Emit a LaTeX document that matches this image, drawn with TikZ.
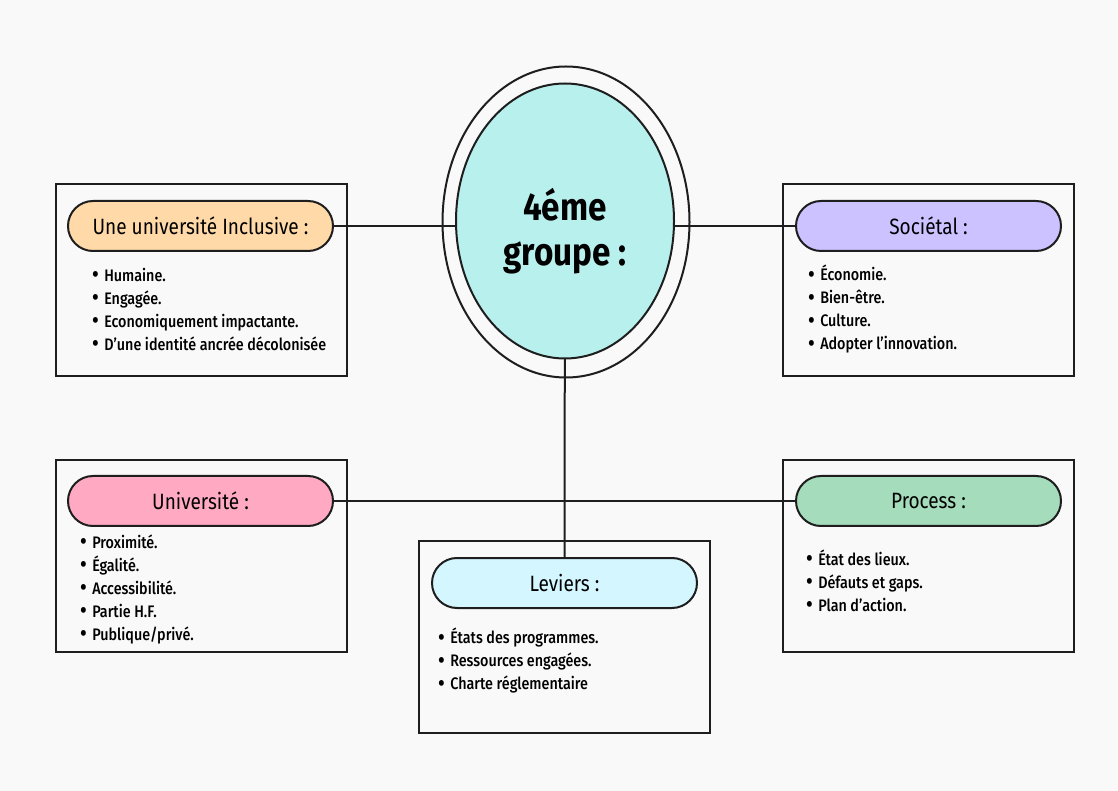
\documentclass[tikz,border=0pt]{standalone}
\usepackage{fontspec}
\setmainfont{Fira Sans}[FakeStretch=0.86]
\newfontfamily\medfont{Fira Sans Medium}[FakeStretch=0.86]
\newfontfamily\boldfont{Fira Sans Bold}[FakeStretch=0.86]
\usetikzlibrary{shapes.geometric}

\definecolor{bgcol}{HTML}{F9F9F9}
\definecolor{inkcol}{HTML}{1E1E1E}
\definecolor{peach}{HTML}{FFDAA8}
\definecolor{lavender}{HTML}{CCC2FF}
\definecolor{rose}{HTML}{FFAAC2}
\definecolor{icecyan}{HTML}{D4F6FF}
\definecolor{mint}{HTML}{A4DCBC}
\definecolor{aqua}{HTML}{B8F0EE}

\pgfdeclarelayer{panels}
\pgfdeclarelayer{links}
\pgfsetlayers{panels,links,main}

\newcommand{\itm}[1]{\makebox[9pt][l]{\boldfont\raisebox{-0.2pt}{\scalebox{1.25}{•}}}#1}

\tikzset{
  panel/.style={draw=inkcol, line width=1.5pt, fill=bgcol,
    minimum width=218.25pt, minimum height=144pt, inner sep=0pt},
  pill/.style={draw=inkcol, line width=1.5pt, rounded corners=18.75pt,
    minimum width=198.75pt, minimum height=37.5pt, inner sep=0pt,
    font=\fontsize{16.6}{20}\selectfont},
  items/.style={anchor=west, align=left, inner sep=0pt,
    font=\medfont\fontsize{12.5}{17.25}\selectfont},
  link/.style={draw=inkcol, line width=1.5pt},
}

\begin{document}
\begin{tikzpicture}[x=0.75pt, y=-0.75pt]
  \useasboundingbox (0,0) rectangle (1118,791);

  % backdrop, outer frames and the ring around the hub
  \begin{pgfonlayer}{panels}
    \fill[bgcol] (0,0) rectangle (1118,791);
    \node[panel] (b1) at (201.5,280) {};
    \node[panel] (b2) at (928.5,280) {};
    \node[panel] (b3) at (201.5,556) {};
    \node[panel] (b4) at (564.5,637) {};
    \node[panel] (b5) at (928.5,556) {};
    \node[ellipse, draw=inkcol, line width=1.5pt, inner sep=0pt,
          minimum width=185.25pt, minimum height=233.25pt] (ring) at (566,222) {};
  \end{pgfonlayer}

  % header pills
  \node[pill, fill=peach]    (p1) at (200.5,226) {Une université Inclusive :};
  \node[pill, fill=lavender] (p2) at (928.5,226) {Sociétal :};
  \node[pill, fill=rose]     (p3) at (200.5,501) {Université :};
  \node[pill, fill=icecyan]  (p4) at (564.5,583) {Leviers :};
  \node[pill, fill=mint]     (p5) at (928.5,501) {Process :};

  % hub
  \node[ellipse, draw=inkcol, line width=1.5pt, fill=aqua, inner sep=0pt,
        minimum width=163.5pt, minimum height=206.25pt] (core) at (565,221) {};
  \node[align=center, inner sep=0pt,
        font=\boldfont\fontsize{29}{33.5}\selectfont] (title) at (565,231) {4éme\\groupe :};

  % connectors, kept beneath the pills and the hub
  \begin{pgfonlayer}{links}
    \path[link] (p1.east) -- (p2.west);
    \path[link] (p3.east) -- (p5.west);
    \path[link] (core.center) -- (p4.north);
  \end{pgfonlayer}

  % bullet lists
  \node[items] (l1) at (92,309.5) {\itm{Humaine.}\\\itm{Engagée.}\\\itm{Economiquement impactante.}\\\itm{D’une identité ancrée décolonisée}};
  \node[items] (l2) at (808,309.5) {\itm{Économie.}\\\itm{Bien-être.}\\\itm{Culture.}\\\itm{Adopter l’innovation.}};
  \node[items] (l3) at (80,589.5) {\itm{Proximité.}\\\itm{Égalité.}\\\itm{Accessibilité.}\\\itm{Partie H.F.}\\\itm{Publique/privé.}};
  \node[items] (l4) at (438,661) {\itm{États des programmes.}\\\itm{Ressources engagées.}\\\itm{Charte réglementaire}};
  \node[items] (l5) at (806,581) {\itm{État des lieux.}\\\itm{Défauts et gaps.}\\\itm{Plan d’action.}};
\end{tikzpicture}
\end{document}
